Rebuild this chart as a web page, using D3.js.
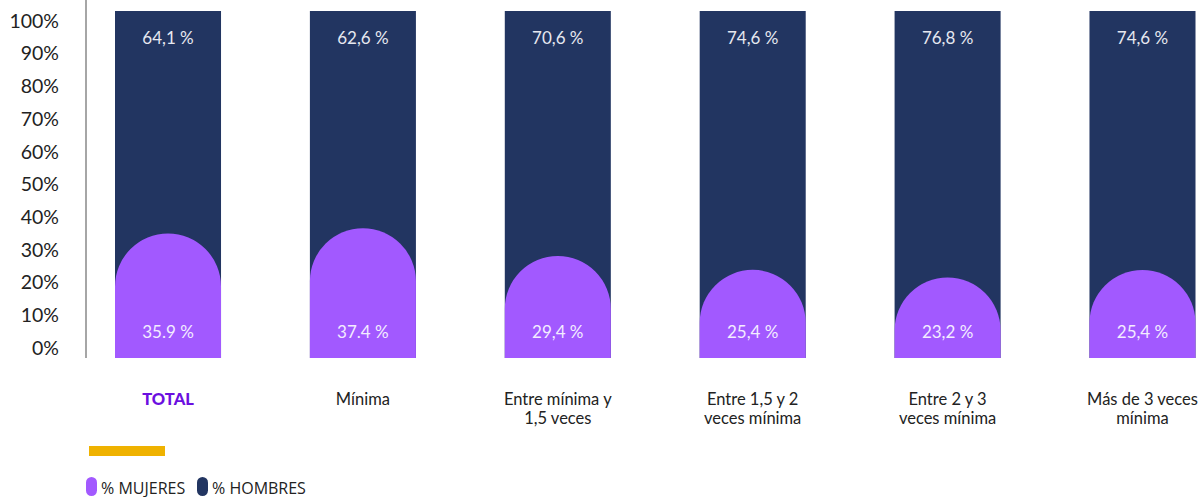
<!DOCTYPE html>
<html>
<head>
<meta charset="utf-8">
<script src="https://cdn.jsdelivr.net/npm/d3@7"></script>
<style>
  html, body { margin: 0; padding: 0; background: #fff; }
  svg { display: block; font-family: Lato, "Open Sans", sans-serif; }
</style>
</head>
<body>
<svg id="chart" width="1204" height="497"></svg>
<script>
// ---- data ----
const categories = ["TOTAL", "Mínima", "Entre mínima y|1,5 veces", "Entre 1,5 y 2|veces mínima", "Entre 2 y 3|veces mínima", "Más de 3 veces|mínima"];
const mujeres = [35.9, 37.4, 29.4, 25.4, 23.2, 25.4];
const hombres = [64.1, 62.6, 70.6, 74.6, 76.8, 74.6];
const mujeresLabels = ["35.9 %", "37.4 %", "29,4 %", "25,4 %", "23,2 %", "25,4 %"];
const hombresLabels = ["64,1 %", "62,6 %", "70,6 %", "74,6 %", "76,8 %", "74,6 %"];
const yTicks = [0, 10, 20, 30, 40, 50, 60, 70, 80, 90, 100];
const legendItems = ["% MUJERES", "% HOMBRES"];

// ---- styles ----
const NAVY = "#223561";
const PURPLE = "#a259ff";

const svg = d3.select("#chart");

const x = d3.scaleBand().domain(categories).range([115, 1195.5]).paddingInner(0.456).paddingOuter(0);
const y = d3.scaleLinear().domain([0, 100]).range([358, 11]);
const yAxisScale = d3.scaleLinear().domain([0, 100]).range([348, 21]);

// axis labels
const ax = svg.append("g").attr("transform", "translate(59,0)")
  .call(d3.axisLeft(yAxisScale).tickValues(yTicks).tickFormat(d => d + "%").tickSize(0).tickPadding(0));
ax.select(".domain").remove();
ax.selectAll("text").attr("font-family", "Lato, 'Open Sans', sans-serif").attr("font-size", 19.5).attr("fill", "#222");

// vertical axis line
svg.append("line").attr("x1", 86).attr("x2", 86).attr("y1", 0).attr("y2", 358)
  .attr("stroke", "#a6a6a6").attr("stroke-width", 2);

const bw = x.bandwidth();

// navy full bars (stacked total)
svg.selectAll("rect.h").data(categories).join("rect")
  .attr("class", "h")
  .attr("x", d => x(d))
  .attr("width", bw)
  .attr("y", (d, i) => y(mujeres[i] + hombres[i]))
  .attr("height", (d, i) => y(0) - y(mujeres[i] + hombres[i]))
  .attr("fill", NAVY);

// purple domed bars
svg.selectAll("path.m").data(categories).join("path")
  .attr("class", "m")
  .attr("d", (d, i) => {
    const x0 = x(d), x1 = x(d) + bw, r = bw / 2;
    const top = y(mujeres[i]);
    const b = y(0);
    return `M${x0},${b}L${x0},${top + r}A${r},${r} 0 0 1 ${x1},${top + r}L${x1},${b}Z`;
  })
  .attr("fill", PURPLE);

// value labels
svg.selectAll("text.hl").data(categories).join("text")
  .attr("class", "hl")
  .attr("x", d => x(d) + bw / 2)
  .attr("y", 44)
  .attr("text-anchor", "middle")
  .attr("font-size", 17)
  .attr("fill", "#e6e8f0")
  .text((d, i) => hombresLabels[i]);

svg.selectAll("text.ml").data(categories).join("text")
  .attr("class", "ml")
  .attr("x", d => x(d) + bw / 2)
  .attr("y", 338)
  .attr("text-anchor", "middle")
  .attr("font-size", 17)
  .attr("fill", "#f3ecff")
  .text((d, i) => mujeresLabels[i]);

// category labels
const cl = svg.selectAll("text.cl").data(categories).join("text")
  .attr("class", "cl")
  .attr("x", d => x(d) + bw / 2)
  .attr("y", 405)
  .attr("text-anchor", "middle")
  .attr("font-size", 16.5)
  .attr("fill", (d, i) => i === 0 ? "#6b0fe0" : "#222")
  .attr("font-weight", (d, i) => i === 0 ? 900 : 400);
cl.each(function (d) {
  const lines = d.split("|");
  d3.select(this).selectAll("tspan").data(lines).join("tspan")
    .attr("x", x(d) + bw / 2)
    .attr("dy", (l, j) => j === 0 ? 0 : 19)
    .text(l => l);
});

// yellow accent bar
svg.append("rect").attr("x", 89).attr("y", 446).attr("width", 76).attr("height", 10).attr("fill", "#efb200");

// legend
const legendColors = [PURPLE, NAVY];
const legendX = [86, 197];
const lg = svg.selectAll("g.lg").data(legendItems).join("g")
  .attr("class", "lg")
  .attr("transform", (d, i) => `translate(${legendX[i]},477)`);
lg.append("rect").attr("width", 11).attr("height", 19).attr("rx", 5.5).attr("ry", 5.5)
  .attr("fill", (d, i) => legendColors[i]);
lg.append("text").attr("x", 15).attr("y", 16.5).attr("font-size", 16).attr("fill", "#222")
  .attr("font-family", "'Open Sans', Lato, sans-serif")
  .text(d => d);
</script>
</body>
</html>
